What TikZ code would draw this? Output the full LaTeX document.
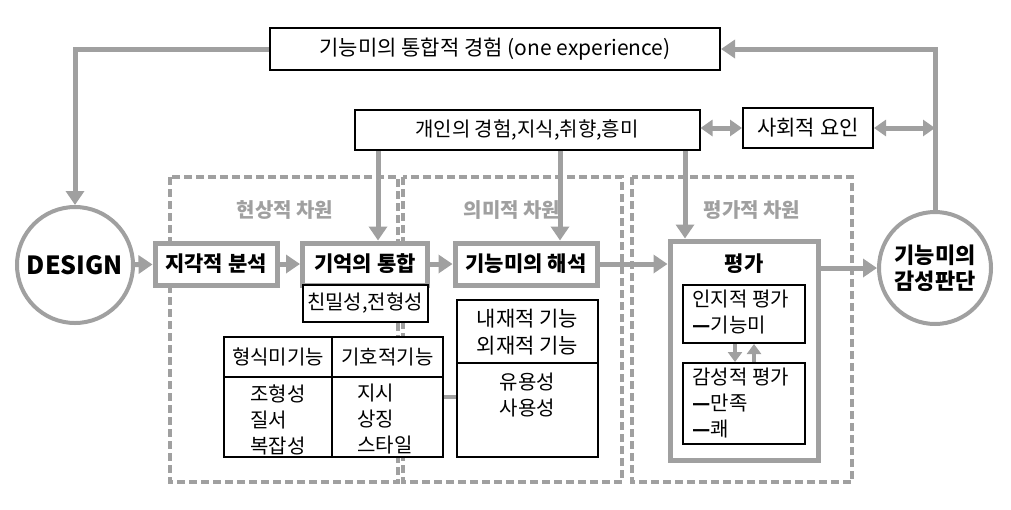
\documentclass[tikz,border=0pt]{standalone}
\usepackage{fontspec}
\setmainfont{Noto Sans CJK KR}
\usetikzlibrary{arrows.meta,calc}
\definecolor{linegray}{RGB}{160,160,160}
\tikzset{
	plain/.style={draw=black, fill=white, line width=1pt, inner sep=0pt, font=\fontsize{10.5}{12}\selectfont},
	proc/.style={draw=linegray, line width=2.5pt, fill=white, inner sep=0pt, font=\fontsize{10.5}{12}\selectfont\bfseries},
	bubble/.style={circle, draw=linegray, fill=white, line width=2pt, inner sep=0pt, align=center, font=\fontsize{11}{13}\selectfont\bfseries},
	zone/.style={draw=linegray, line width=2pt, dash pattern=on 4pt off 2pt},
	zonelabel/.style={text=linegray, font=\fontsize{10}{12}\selectfont\bfseries},
	flow/.style={draw=linegray, line width=2.5pt, -{Triangle[length=7pt,width=9pt]}},
	twoway/.style={draw=linegray, line width=2.5pt, {Triangle[length=6pt,width=8pt]}-{Triangle[length=6pt,width=8pt]}},
	small/.style={font=\fontsize{10}{13}\selectfont, inner sep=0pt}
}
\begin{document}
\begin{tikzpicture}[x=0.5pt,y=-0.5pt]
	\useasboundingbox (0,0) rectangle (1011,509);
	% dimension zones
	\draw[zone] (170,177) rectangle (398,482);
	\draw[zone] (403,177) rectangle (622,482);
	\draw[zone] (632,177) rectangle (852,482);
	\node[zonelabel] (zphen) at (285,210) {현상적 차원};
	\node[zonelabel] (zmean) at (512,210) {의미적 차원};
	\node[zonelabel] (zeval) at (752,210) {평가적 차원};

	% top boxes
	\node[plain, minimum width=225pt, minimum height=21pt] (whole) at (495,49) {기능미의 통합적 경험 (one experience)};
	\node[plain, minimum width=172.5pt, minimum height=20pt, font=\fontsize{10}{12}\selectfont] (personal) at (527,130) {개인의 경험,지식,취향,흥미};
	\node[plain, minimum width=65pt, minimum height=20pt] (social) at (808,128) {사회적 요인};

	% circles
	\node[bubble, minimum size=58pt, font=\fontsize{12.5}{14}\selectfont\bfseries] (design) at (75,265) {DESIGN};
	\node[bubble, minimum size=56pt] (judge) at (935,268) {기능미의\\감성판단};

	% process boxes
	\node[proc, minimum width=61pt, minimum height=21pt] (percep) at (216,264) {지각적 분석};
	\node[proc, minimum width=62.5pt, minimum height=21pt] (memory) at (365,264) {기억의 통합};
	\node[proc, minimum width=71pt, minimum height=21pt] (interp) at (526,264) {기능미의 해석};
	\node[proc, minimum width=74pt, minimum height=109.5pt] (eval) at (744,350.5) {};
	\node[font=\fontsize{10.5}{12}\selectfont\bfseries] (evaltitle) at (744,264) {평가};

	% detail boxes
	\node[plain, small, minimum width=62.5pt, minimum height=18.5pt] (familiar) at (365,303.5) {친밀성,전형성};
	\node[plain, minimum width=54pt, minimum height=60pt] (formal) at (278,397) {};
	\node[plain, minimum width=55.5pt, minimum height=60pt] (sign) at (387.5,397) {};
	\draw[line width=1pt] (formal.west |- 0,377) -- (sign.east |- 0,377);
	\node[small] (formalhead) at (278,357) {형식미기능};
	\node[small] (signhead) at (387.5,357) {기호적기능};
	\node[small, align=left, anchor=north] (formaltext) at (278,384) {조형성\\질서\\복잡성};
	\node[small, align=left, anchor=north] (signtext) at (385,384) {지시\\상징\\스타일};
	\node[plain, minimum width=70.5pt, minimum height=78.5pt] (inner) at (527.5,378.5) {};
	\draw[line width=1pt] (inner.west |- 0,363) -- (inner.east |- 0,363);
	\node[small, align=center, font=\fontsize{10.5}{13.5}\selectfont] (innerhead) at (527.5,332) {내재적 기능\\외재적 기능};
	\node[small, align=center, anchor=north] (innertext) at (527.5,373) {유용성\\사용성};
	\draw[draw=linegray, line width=2pt] (sign.east |- 0,397) -- (inner.west |- 0,397);

	\node[plain, minimum width=61pt, minimum height=29pt] (cog) at (744,314) {};
	\node[small, align=left, anchor=north west] (cogtext) at (692,290) {인지적 평가\\\textbf{—}기능미};
	\node[plain, minimum width=61pt, minimum height=40.5pt] (emo) at (744,403.5) {};
	\node[small, align=left, anchor=north west] (emotext) at (692,368) {감성적 평가\\\textbf{—}만족\\\textbf{—}쾌};
	\draw[draw=linegray, line width=2pt, -{Triangle[length=5pt,width=7pt]}] (cog.south -| 735,0) -- (emo.north -| 735,0);
	\draw[draw=linegray, line width=2pt, -{Triangle[length=5pt,width=7pt]}] (emo.north -| 754,0) -- (cog.south -| 754,0);

	% main flow
	\draw[flow] (design) -- (percep);
	\draw[flow] (percep) -- (memory);
	\draw[flow] (memory) -- (interp);
	\draw[flow] (interp) -- (eval.west |- interp);
	\draw[flow] (eval.east |- judge) -- (judge);

	% feedback loop
	\coordinate (leftbend) at (75,49);
	\coordinate (rightbend) at (935,49);
	\draw[flow] (whole.west) -- (leftbend) -- (design.north);
	\draw[flow] (judge.north) -- (rightbend) -- (whole.east);

	% influences
	\draw[twoway] (personal.east |- social) -- (social.west);
	\draw[twoway] (social.east) -- (social.east -| judge);
	\draw[flow] (personal.south -| 378,0) -- (memory.north -| 378,0);
	\draw[flow] (personal.south -| 560,0) -- (interp.north -| 560,0);
	\draw[flow] (personal.south -| 685,0) -- (eval.north -| 685,0);
\end{tikzpicture}
\end{document}
